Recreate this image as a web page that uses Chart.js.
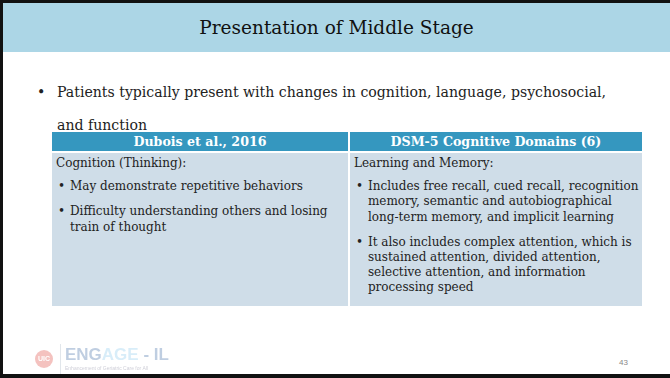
<!DOCTYPE html>
<html>
<head>
<meta charset="utf-8">
<script src="https://cdn.jsdelivr.net/npm/chart.js@4"></script>
<style>
  html, body { margin: 0; padding: 0; }
  body { width: 670px; height: 378px; overflow: hidden; background: #fff; font-family: "DejaVu Serif", Georgia, serif; }
  #slide { position: relative; width: 670px; height: 378px; box-sizing: border-box;
           border-top: 3px solid #111; border-left: 3px solid #111; border-bottom: 4px solid #111; }
  #band { position: absolute; left: 0; top: 0; width: 667px; height: 49px; background: #acd6e6; }
  #title { position: absolute; left: 0; width: 667px; top: 14px; text-align: center; font-size: 18.5px; color: #111; }
  #lead { position: absolute; left: 34px; top: 73px; width: 600px; font-size: 14.1px; line-height: 33px; color: #222; }
  #lead .dot { position: absolute; left: 0; top: 0; }
  #lead .txt { margin-left: 20px; width: 565px; }
  table { position: absolute; left: 49px; top: 129px; width: 590px; border-collapse: collapse; font-size: 12px; color: #222; }
  th { background: #3597bf; color: #fff; font-weight: bold; height: 19px; padding: 0; border-right: 2px solid #fff; border-bottom: 2px solid #fff; font-size: 12.6px; }
  td { background: #cfdde8; vertical-align: top; padding: 3px 3px 0 4px; height: 150px; border-right: 2px solid #fff; line-height: 15.2px; }
  th:last-child, td:last-child { border-right: none; }
  td ul { margin: 8px 0 0 0; padding: 0; list-style: none; }
  td li { position: relative; padding-left: 14px; margin-bottom: 10px; }
  td li::before { content: "•"; position: absolute; left: 2px; }
  #logo { position: absolute; left: 26px; top: 338px; opacity: 0.3; }
  #page { position: absolute; left: 616px; top: 355px; font-family: "Liberation Sans", sans-serif; font-size: 8px; color: #888; }
</style>
</head>
<body>
<div id="slide">
  <div id="band"></div>
  <div id="title"></div>
  <div id="lead"><span class="dot">•</span><div class="txt"></div></div>
  <table id="tbl"><thead><tr></tr></thead><tbody><tr></tr></tbody></table>
  <div id="logo"><canvas id="logoChart" width="150" height="34"></canvas></div>
  <div id="page"></div>
</div>
<script>
const titleText = "Presentation of Middle Stage";
const leadText = "Patients typically present with changes in cognition, language, psychosocial, and function";
const columnHeaders = ["Dubois et al., 2016", "DSM-5 Cognitive Domains (6)"];
const columnLabels = ["Cognition (Thinking):", "Learning and Memory:"];
const leftItems = ["May demonstrate repetitive behaviors", "Difficulty understanding others and losing train of thought"];
const rightItems = [
  "Includes free recall, cued recall, recognition memory, semantic and autobiographical long-term memory, and implicit learning",
  "It also includes complex attention, which is sustained attention, divided attention, selective attention, and information processing speed"
];
const pageNumber = "43";

document.getElementById('title').textContent = titleText;
document.querySelector('#lead .txt').textContent = leadText;
document.getElementById('page').textContent = pageNumber;

const headRow = document.querySelector('#tbl thead tr');
const bodyRow = document.querySelector('#tbl tbody tr');
[leftItems, rightItems].forEach((items, i) => {
  const th = document.createElement('th');
  th.textContent = columnHeaders[i];
  th.style.width = i === 0 ? '297px' : '293px';
  headRow.appendChild(th);
  const td = document.createElement('td');
  const label = document.createElement('div');
  label.textContent = columnLabels[i];
  td.appendChild(label);
  const ul = document.createElement('ul');
  items.forEach(t => { const li = document.createElement('li'); li.textContent = t; ul.appendChild(li); });
  td.appendChild(ul);
  bodyRow.appendChild(td);
});

// logo: drawn on a chart.js canvas via a small plugin
const logoPlugin = {
  id: 'logo',
  afterDraw(chart) {
    const ctx = chart.ctx;
    ctx.save();
    ctx.fillStyle = '#d9342b';
    ctx.beginPath(); ctx.arc(15, 18, 9, 0, Math.PI * 2); ctx.fill();
    ctx.fillStyle = '#fff'; ctx.font = 'bold 7px "Liberation Sans"'; ctx.textAlign = 'center'; ctx.textBaseline = 'middle';
    ctx.fillText('UIC', 15, 18.5);
    ctx.fillStyle = '#9ab'; ctx.fillRect(31, 3, 1, 30);
    ctx.textAlign = 'left'; ctx.textBaseline = 'alphabetic';
    ctx.font = 'bold 17px "Liberation Sans"';
    ctx.fillStyle = '#2a5a9a'; ctx.fillText('ENG', 36, 19);
    ctx.fillStyle = '#7cc3ea'; ctx.fillText('AGE', 36 + ctx.measureText('ENG').width, 19);
    ctx.fillStyle = '#2a5a9a'; ctx.fillText(' - IL', 36 + ctx.measureText('ENGAGE').width, 19);
    ctx.font = '5px "Liberation Sans"'; ctx.fillStyle = '#557';
    ctx.fillText('Enhancement of Geriatric Care for All', 36, 29);
    ctx.restore();
  }
};
new Chart(document.getElementById('logoChart'), {
  type: 'bar',
  data: { labels: [], datasets: [] },
  options: {
    responsive: false, animation: false,
    plugins: { legend: { display: false }, tooltip: { enabled: false } },
    scales: { x: { display: false }, y: { display: false } }
  },
  plugins: [logoPlugin]
});
</script>
</body>
</html>
